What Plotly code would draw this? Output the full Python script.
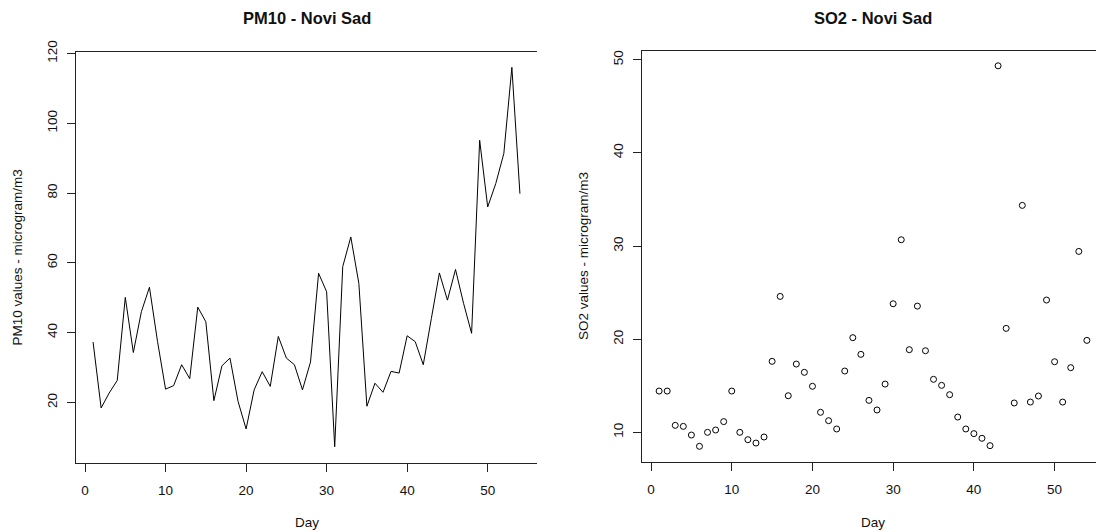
import plotly.graph_objects as go

days = list(range(1, 55))

pm10 = [37.3, 18.4, 22.7, 26.3, 50.1, 34.3, 46.0, 53.0, 37.5, 23.8,
        24.8, 30.8, 26.8, 47.3, 43.1, 20.5, 30.5, 32.7, 20.3, 12.4,
        23.6, 28.8, 24.6, 38.9, 32.7, 30.8, 23.6, 31.6, 57.0, 51.7,
        7.3, 58.9, 67.4, 54.1, 18.9, 25.5, 22.9, 28.9, 28.4, 39.1,
        37.4, 30.8, 44.0, 57.1, 49.3, 58.1, 48.4, 39.8, 95.1, 76.0,
        82.7, 91.3, 116.0, 79.8]

so2 = [14.43, 14.43, 10.75, 10.64, 9.71, 8.5, 10.0, 10.25, 11.15, 14.43,
       10.0, 9.21, 8.85, 9.5, 17.62, 24.59, 13.93, 17.33, 16.44, 14.94,
       12.15, 11.25, 10.36, 16.58, 20.16, 18.37, 13.43, 12.4, 15.18, 23.8,
       30.67, 18.87, 23.55, 18.76, 15.69, 15.04, 14.04, 11.64, 10.36, 9.86,
       9.36, 8.57, 49.34, 21.16, 13.15, 34.36, 13.25, 13.9, 24.2, 17.58,
       13.25, 16.94, 29.42, 19.87]

pm_ticks = [20, 40, 60, 80, 100, 120]
so2_ticks = [10, 20, 30, 40, 50]
day_ticks = [0, 10, 20, 30, 40, 50]

W, H = 1096, 532
FONT = "Liberation Sans, Arial, sans-serif"
AX = "#222222"
TXT = "#111111"
FS = 13.5

fig = go.Figure()
fig.add_trace(go.Scatter(x=days, y=pm10, mode="lines",
                         line=dict(color="black", width=1),
                         xaxis="x", yaxis="y", showlegend=False))
fig.add_trace(go.Scatter(x=days, y=so2, mode="markers",
                         marker=dict(symbol="circle-open", size=6, color="black",
                                     line=dict(width=1, color="black")),
                         xaxis="x2", yaxis="y2", showlegend=False))


def xax(domain, rng, anchor):
    return dict(domain=domain, range=rng, anchor=anchor, tickmode="array",
                tickvals=day_ticks, ticks="outside", ticklen=8, tickwidth=1,
                tickcolor=AX, showline=True, linecolor=AX, linewidth=1,
                mirror=True, showgrid=False, zeroline=False, automargin=False,
                ticklabelstandoff=7,
                tickfont=dict(family=FONT, size=FS, color=TXT))


def yax(domain, rng, anchor, ticks):
    return dict(domain=domain, range=rng, anchor=anchor, tickmode="array",
                tickvals=ticks, ticks="outside", ticklen=8, tickwidth=1,
                tickcolor=AX, showline=True, linecolor=AX, linewidth=1,
                showgrid=False, zeroline=False, tickangle=-90, automargin=False,
                ticklabelstandoff=5,
                tickfont=dict(family=FONT, size=FS, color=TXT))


fig.update_layout(
    width=W, height=H,
    margin=dict(l=0, r=0, t=0, b=0, pad=0),
    paper_bgcolor="white", plot_bgcolor="white",
    xaxis=xax([76 / W, 537 / W], [-1.12, 56.12], "y"),
    yaxis=yax([1 - 463 / H, 1 - 52 / H], [2.64, 120.4], "x", pm_ticks),
    xaxis2=xax([642 / W, 1.0], [-1.12, 55.13], "y2"),
    yaxis2=yax([1 - 461.5 / H, 1 - 51 / H], [6.87, 50.93], "x2", so2_ticks),
    font=dict(family=FONT, size=FS, color=TXT),
)

ann = [
    dict(text="<b>PM10 - Novi Sad</b>", x=306.5 / W, y=1 - 18 / H, size=16.5, angle=0),
    dict(text="<b>SO2 - Novi Sad</b>", x=873 / W, y=1 - 18 / H, size=16.5, angle=0),
    dict(text="Day", x=306.5 / W, y=1 - 522 / H, size=FS, angle=0),
    dict(text="Day", x=873 / W, y=1 - 522 / H, size=FS, angle=0),
    dict(text="PM10 values - microgram/m3", x=17 / W, y=1 - 257.5 / H, size=FS, angle=-90),
    dict(text="SO2 values - microgram/m3", x=583 / W, y=1 - 256 / H, size=FS, angle=-90),
]
for a in ann:
    fig.add_annotation(text=a["text"], x=a["x"], y=a["y"], xref="paper", yref="paper",
                       xanchor="center", yanchor="middle", showarrow=False,
                       textangle=a["angle"],
                       font=dict(family=FONT, size=a["size"], color=TXT))

fig.write_html("out.html",
               config={"displayModeBar": False},
               post_script="document.body.style.margin='0';"
                           "document.body.style.overflow='hidden';")
